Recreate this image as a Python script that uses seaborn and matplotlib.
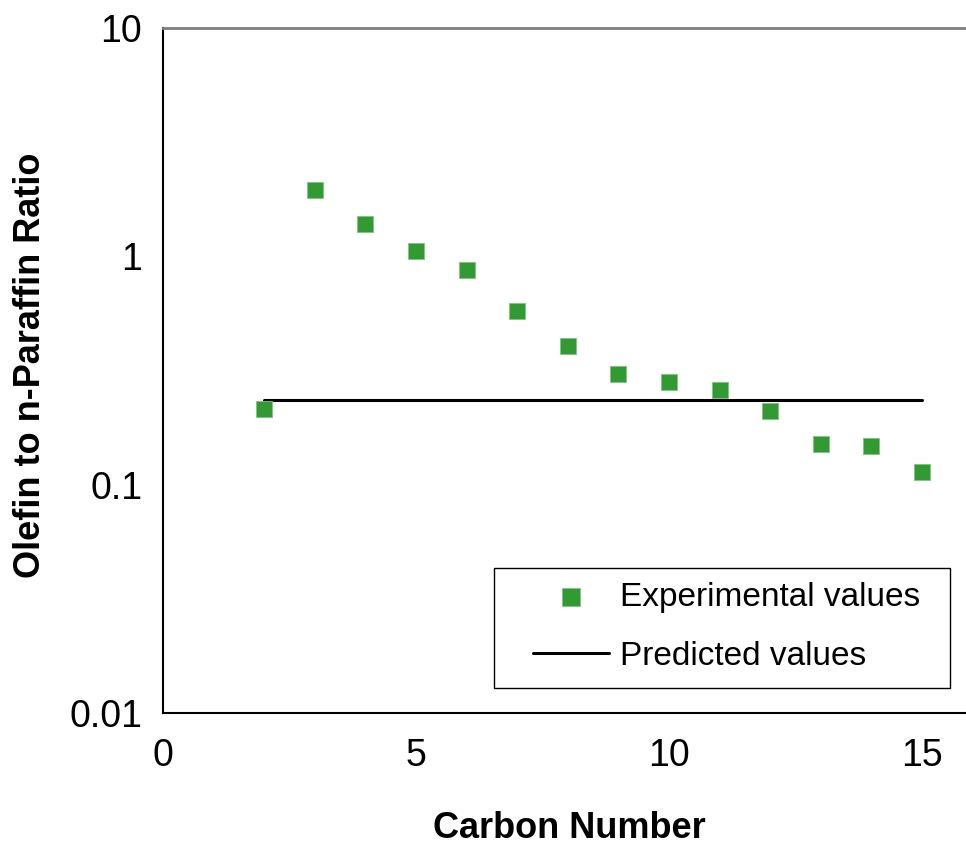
import matplotlib
matplotlib.use("Agg")
import matplotlib.pyplot as plt
import matplotlib.patches as mpatches
import seaborn as sns
import pandas as pd

carbon_number = [2, 3, 4, 5, 6, 7, 8, 9, 10, 11, 12, 13, 14, 15]
experimental = [0.215, 1.95, 1.39, 1.06, 0.87, 0.574, 0.403, 0.304, 0.281, 0.259, 0.211, 0.151, 0.147, 0.114]
predicted = [0.236, 0.236, 0.236, 0.236, 0.236, 0.236, 0.236, 0.236, 0.236, 0.236, 0.236, 0.236, 0.236, 0.236]
x_ticks = [0, 5, 10, 15]
y_ticks = [0.01, 0.1, 1, 10]
y_tick_labels = ["0.01", "0.1", "1", "10"]

sns.set_theme(style="white")
plt.rcParams['font.family'] = ['Liberation Sans', 'DejaVu Sans']
plt.rcParams['text.color'] = 'black'

W, H = 966, 848
fig = plt.figure(figsize=(W / 100, H / 100), dpi=100)
ax = fig.add_axes([163 / W, 1 - 713 / H, 803 / W, 685 / H])

df_exp = pd.DataFrame({"x": carbon_number, "y": experimental})
df_pred = pd.DataFrame({"x": carbon_number, "y": predicted})

sns.lineplot(data=df_pred, x="x", y="y", ax=ax, color="black", linewidth=2.2,
             label="Predicted values", zorder=2)
sns.scatterplot(data=df_exp, x="x", y="y", ax=ax, marker="s", s=135, color="#339933",
                edgecolor="#7fc47f", linewidth=0.6, label="Experimental values", zorder=3)

ax.set_yscale("log")
ax.set_ylim(0.01, 10)
ax.set_xlim(0, 803 / 50.6)
ax.set_xticks(x_ticks)
ax.set_xticklabels([str(t) for t in x_ticks])
ax.set_yticks(y_ticks)
ax.set_yticklabels(y_tick_labels)
ax.minorticks_off()
ax.yaxis.set_minor_locator(matplotlib.ticker.NullLocator())

ax.tick_params(axis="both", which="major", direction="in", length=6, width=1,
               color="black", labelsize=27, labelcolor="black")
ax.tick_params(axis="x", pad=18)
ax.tick_params(axis="y", pad=15)

for side in ["left", "bottom"]:
    ax.spines[side].set_color("black")
    ax.spines[side].set_linewidth(1.5)
ax.spines["top"].set_color("#808080")
ax.spines["top"].set_linewidth(2)
ax.spines["right"].set_visible(False)

ax.set_xlabel("")
ax.set_ylabel("")
fig.text(569 / W, 1 - 828 / H, "Carbon Number", ha="center", va="center",
         fontsize=26, fontweight="bold", color="black")
fig.text(31 / W, 1 - 365 / H, "Olefin to n-Paraffin Ratio", ha="center", va="center",
         rotation=90, fontsize=26, fontweight="bold", color="black")

# legend box (drawn inside the axes, below the legend)
frame = mpatches.Rectangle((494 / W, 1 - 688 / H), (950 - 494) / W, (688 - 568) / H,
                           transform=fig.transFigure, facecolor="white", edgecolor="black",
                           linewidth=1.0, zorder=4, clip_on=False)
ax.add_artist(frame)

handles, labels = ax.get_legend_handles_labels()
order = [labels.index("Experimental values"), labels.index("Predicted values")]
leg = ax.legend([handles[i] for i in order], [labels[i] for i in order],
                loc="upper left", bbox_to_anchor=(533 / W, 1 - 582 / H),
                bbox_transform=fig.transFigure,
                fontsize=24, frameon=False, handlelength=2.28, handletextpad=0.33,
                borderpad=0, labelspacing=0.84, borderaxespad=0, markerscale=1.1,
                labelcolor="black")
leg.set_zorder(6)

fig.savefig("out.png", dpi=100, facecolor="white")
